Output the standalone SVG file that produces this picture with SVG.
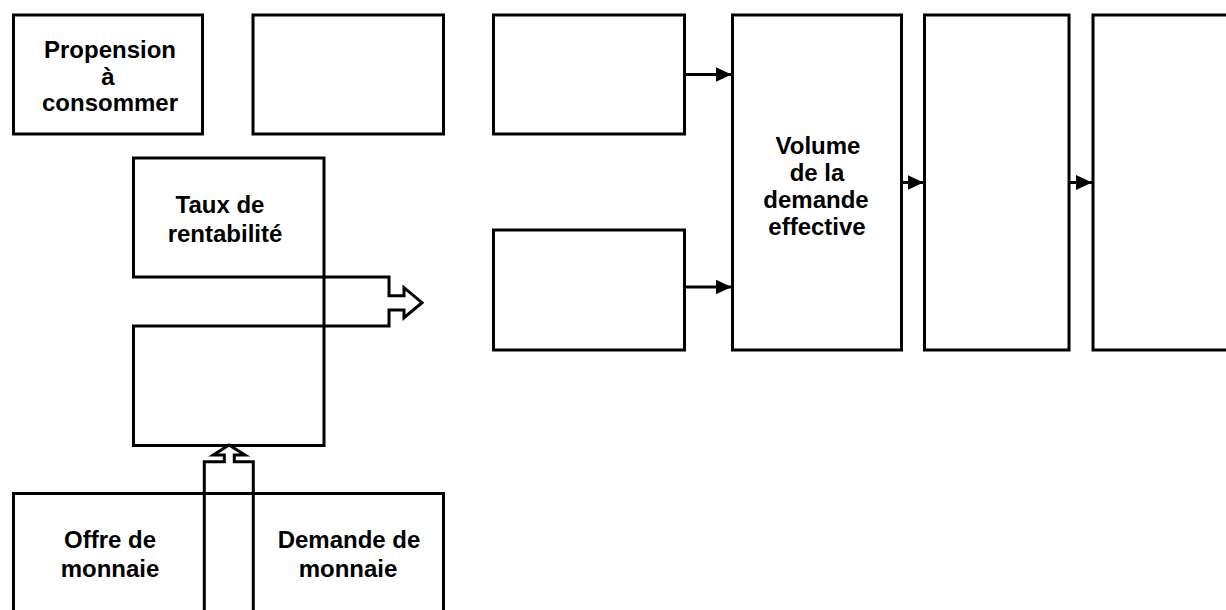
<svg xmlns="http://www.w3.org/2000/svg" width="1226" height="610" viewBox="0 0 1226 610">
<style>
.box{fill:#fff;stroke:#000;stroke-width:3}
.ln{fill:none;stroke:#000;stroke-width:3}
.t{font-family:"Liberation Sans",Arial,sans-serif;font-weight:bold;font-size:24px;fill:#000;text-anchor:middle}
</style>
<defs>
<marker id="ah" markerUnits="userSpaceOnUse" markerWidth="16" markerHeight="16" viewBox="0 0 16 16" refX="16" refY="8" orient="auto">
<path d="M0,0.5 L16,8 L0,15.5 z" fill="#000"/>
</marker>
</defs>
<rect width="1226" height="610" fill="#fff"/>
<g id="propension">
<rect class="box" x="13.5" y="15" width="189" height="119"/>
<text class="t" x="110" y="58">Propension</text>
<text class="t" x="108" y="84.5">à</text>
<text class="t" x="110" y="111">consommer</text>
</g>
<g id="box2"><rect class="box" x="253" y="15" width="190.5" height="119"/></g>
<g id="box3"><rect class="box" x="493.5" y="15" width="191" height="119"/></g>
<g id="box4"><rect class="box" x="493.5" y="230" width="191" height="120"/></g>
<g id="volume">
<rect class="box" x="732.5" y="15" width="169" height="335"/>
<text class="t" x="818" y="154">Volume</text>
<text class="t" x="817" y="181">de la</text>
<text class="t" x="816" y="208">demande</text>
<text class="t" x="817" y="234.5">effective</text>
</g>
<g id="box6"><rect class="box" x="924.5" y="15" width="144.5" height="335"/></g>
<g id="box7"><rect class="box" x="1093" y="15" width="145" height="335"/></g>
<g id="taux">
<rect class="box" x="133.5" y="158" width="190.5" height="119"/>
<text class="t" x="220" y="213">Taux de</text>
<text class="t" x="225" y="241.5">rentabilité</text>
</g>
<g id="box9"><rect class="box" x="133.5" y="326" width="190.5" height="119.5"/></g>
<g id="monnaie">
<rect class="box" x="13.5" y="493.5" width="430" height="130"/>
<text class="t" x="110" y="548">Offre de</text>
<text class="t" x="110" y="577">monnaie</text>
<text class="t" x="349" y="548">Demande de</text>
<text class="t" x="348" y="577">monnaie</text>
</g>
<g id="connectors">
<line class="ln" x1="685" y1="74.5" x2="731.5" y2="74.5" marker-end="url(#ah)"/>
<line class="ln" x1="685" y1="287" x2="731.5" y2="287" marker-end="url(#ah)"/>
<line class="ln" x1="902" y1="182.5" x2="923.5" y2="182.5" marker-end="url(#ah)"/>
<line class="ln" x1="1069.5" y1="182.5" x2="1092" y2="182.5" marker-end="url(#ah)"/>
<path class="ln" d="M324,277 H389 V295.7 H404 V287.7 L422,302.7 L404,317.7 V310 H389 V326 H324 M324,277 V326"/>
<path class="ln" d="M204.3,615 V461.7 H224.3 V455 H213.3 L229,445 L245,455 H234.3 V461.7 H253.3 V615"/>
</g>
</svg>
